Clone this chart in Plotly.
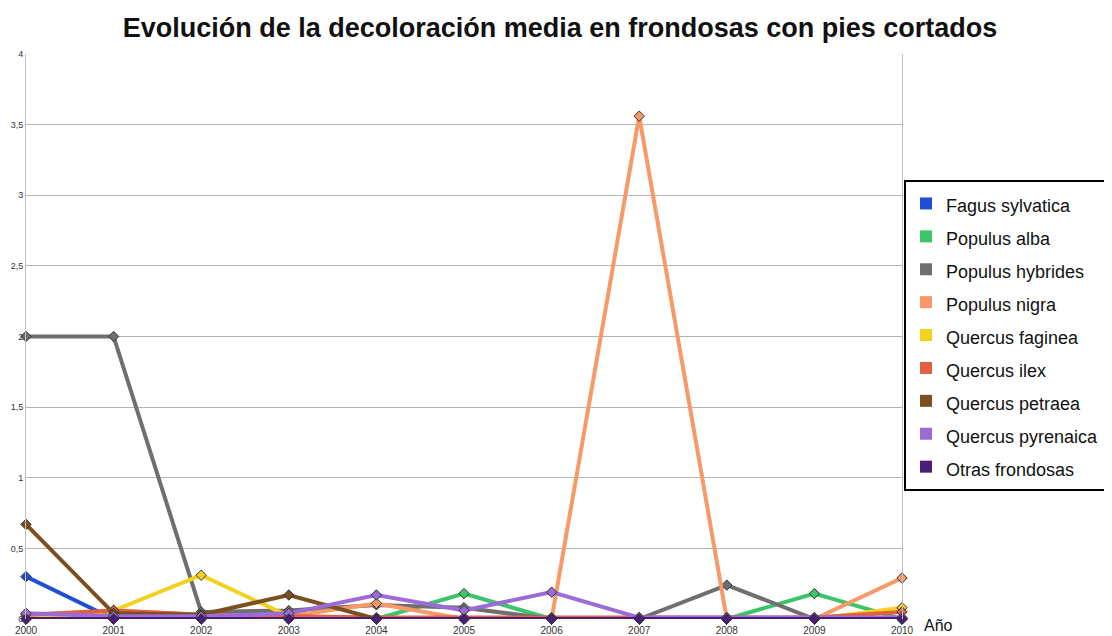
import plotly.graph_objects as go

years = [2000, 2001, 2002, 2003, 2004, 2005, 2006, 2007, 2008, 2009, 2010]

fagus_sylvatica   = [0.30, 0.00, 0.00, 0.00, 0.00, 0.00, 0.00, 0.00, 0.00, 0.00, 0.00]
populus_alba      = [0.00, 0.00, 0.00, 0.00, 0.00, 0.18, 0.00, 0.00, 0.00, 0.18, 0.00]
populus_hybrides  = [2.00, 2.00, 0.05, 0.06, 0.10, 0.08, 0.00, 0.00, 0.24, 0.00, 0.00]
populus_nigra     = [0.00, 0.06, 0.03, 0.02, 0.11, 0.00, 0.00, 3.56, 0.00, 0.00, 0.29]
quercus_faginea   = [0.00, 0.06, 0.31, 0.02, 0.00, 0.00, 0.00, 0.00, 0.00, 0.00, 0.08]
quercus_ilex      = [0.03, 0.06, 0.03, 0.02, 0.01, 0.01, 0.01, 0.01, 0.01, 0.01, 0.05]
quercus_petraea   = [0.67, 0.04, 0.03, 0.17, 0.00, 0.00, 0.00, 0.00, 0.00, 0.00, 0.00]
quercus_pyrenaica = [0.04, 0.02, 0.02, 0.04, 0.17, 0.06, 0.19, 0.01, 0.01, 0.01, 0.01]
otras_frondosas   = [0.00, 0.00, 0.00, 0.00, 0.00, 0.00, 0.00, 0.00, 0.00, 0.00, 0.00]

series_names = ["Fagus sylvatica", "Populus alba", "Populus hybrides", "Populus nigra",
                "Quercus faginea", "Quercus ilex", "Quercus petraea", "Quercus pyrenaica",
                "Otras frondosas"]
series_values = [fagus_sylvatica, populus_alba, populus_hybrides, populus_nigra,
                 quercus_faginea, quercus_ilex, quercus_petraea, quercus_pyrenaica,
                 otras_frondosas]
colors = ["#1f4fd8", "#3dc46a", "#6f6f6f", "#f79a67", "#f2d21e",
          "#e0603f", "#7b4f20", "#9b6bd6", "#4a1d7a"]

y_ticks = [0, 0.5, 1, 1.5, 2, 2.5, 3, 3.5, 4]
y_tick_labels = ["0", "0,5", "1", "1,5", "2", "2,5", "3", "3,5", "4"]

FONT = "Liberation Sans, Arial"

# page body has an 8px margin: figure drawn 8px smaller, coordinates shifted
W, H = 1104, 628
L, T, R, B = 18, 46, 210, 17
PW, PH = W - L - R, H - T - B

fig = go.Figure()
for name, vals, col in zip(series_names, series_values, colors):
    fig.add_trace(go.Scatter(
        x=years, y=vals, mode="lines+markers", name=name,
        line=dict(color=col, width=4),
        marker=dict(symbol="diamond", size=8, color=col,
                    line=dict(color="#333333", width=1)),
        cliponaxis=False, showlegend=False))
for name, col in zip(series_names, colors):
    fig.add_trace(go.Scatter(
        x=[None], y=[None], mode="markers",
        name='<span style="font-size:18px">' + name + '</span>',
        marker=dict(symbol="square", size=17, color=col,
                    line=dict(color=col, width=0)),
        showlegend=True))

fig.update_layout(
    width=W, height=H,
    margin=dict(l=L, r=R, t=T, b=B, autoexpand=False),
    paper_bgcolor="white", plot_bgcolor="white",
    title=dict(text="<b>Evolución de la decoloración media en frondosas con pies cortados</b>",
               x=0.5, xanchor="center", y=1 - 20 / H, yanchor="middle",
               font=dict(family=FONT, size=27, color="#111111")),
    xaxis=dict(range=[2000, 2010], tickmode="array", tickvals=years,
               ticktext=[str(y) for y in years], showgrid=False, zeroline=False,
               showline=False, ticks="", automargin=False, ticklabelstandoff=4,
               tickfont=dict(size=10, color="#333333", family=FONT)),
    yaxis=dict(range=[0, 4], tickmode="array", tickvals=y_ticks, ticktext=y_tick_labels,
               showgrid=True, gridcolor="#b4b4b4", gridwidth=1, zeroline=False,
               showline=True, linecolor="#c0c0c0", linewidth=1, mirror=True,
               ticks="", automargin=False, ticklabelstandoff=0,
               tickfont=dict(size=9, color="#333333", family=FONT)),
    legend=dict(x=1 + 2 / PW, xanchor="left", y=(PH - (172 - T)) / PH, yanchor="top",
                bordercolor="#000000", borderwidth=2, bgcolor="white",
                font=dict(family=FONT, size=23, color="#111111"),
                itemsizing="constant", tracegroupgap=0, itemwidth=30),
    annotations=[dict(text="Año", x=(930 - L) / PW, xref="paper", xanchor="center",
                      y=-6 / PH, yref="paper", yanchor="middle",
                      showarrow=False,
                      font=dict(family=FONT, size=16, color="#111111"))]
)

fig.write_html("out.html")
